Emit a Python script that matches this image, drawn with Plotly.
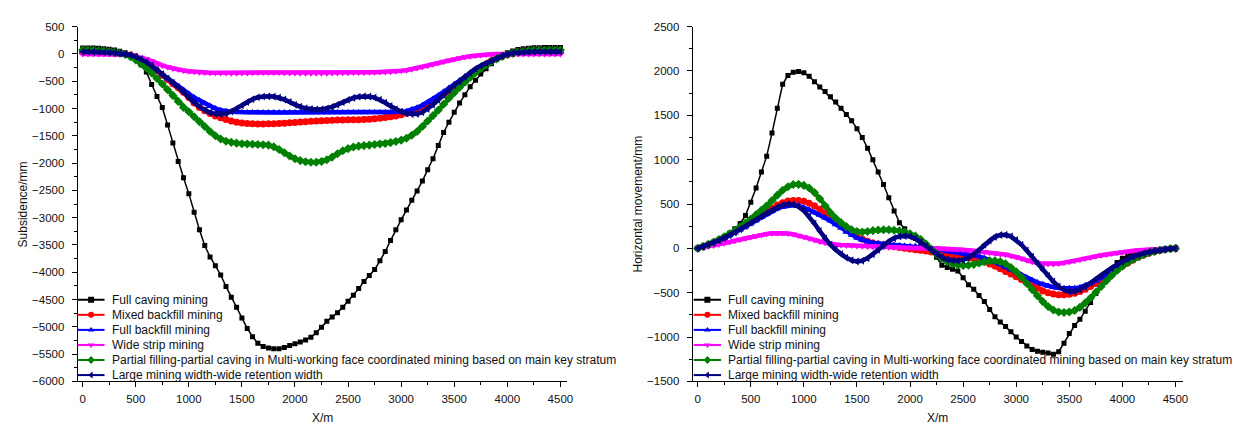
import plotly.graph_objects as go

# ---------------- data ----------------
x_m = list(range(0, 4501, 50))

names = [
    "Full caving mining",
    "Mixed backfill mining",
    "Full backfill mining",
    "Wide strip mining",
    "Partial filling-partial caving in Multi-working face coordinated mining based on main key stratum",
    "Large mining width-wide retention width",
]

# Subsidence / mm (left panel)
sub_full_caving = [
    110, 110, 108, 105, 95, 85, 70, 50, 20, -30,
    -100, -200, -330, -560, -780, -980, -1300, -1630, -1970, -2270,
    -2560, -2900, -3220, -3510, -3720, -3880, -4050, -4260, -4460, -4640,
    -4840, -5030, -5180, -5300, -5360, -5390, -5400, -5400, -5380, -5340,
    -5310, -5280, -5240, -5190, -5110, -5010, -4900, -4820, -4740, -4640,
    -4530, -4420, -4300, -4170, -4060, -3950, -3790, -3620, -3420, -3220,
    -3040, -2860, -2680, -2510, -2330, -2120, -1920, -1680, -1440, -1250,
    -1070, -900, -750, -600, -480, -370, -270, -180, -100, -30,
    20, 55, 80, 95, 105, 112, 115, 118, 120, 120,
    120,
]
sub_mixed_backfill = [
    30, 30, 30, 28, 25, 20, 15, 8, 0, -20,
    -50, -100, -160, -230, -310, -390, -470, -545, -615, -700,
    -800, -900, -980, -1040, -1090, -1135, -1170, -1200, -1230, -1250,
    -1265, -1275, -1280, -1282, -1282, -1280, -1277, -1273, -1268, -1262,
    -1255, -1248, -1242, -1235, -1228, -1222, -1218, -1215, -1212, -1210,
    -1208, -1206, -1204, -1200, -1195, -1188, -1178, -1165, -1150, -1135,
    -1115, -1085, -1050, -1020, -975, -920, -865, -805, -750, -685,
    -615, -540, -465, -395, -320, -250, -185, -125, -80, -45,
    -15, 5, 20, 28, 33, 37, 40, 40, 40, 40,
    40,
]
sub_full_backfill = [
    30, 30, 30, 28, 25, 20, 14, 6, -5, -25,
    -55, -100, -160, -230, -305, -380, -455, -525, -590, -660,
    -730, -800, -855, -910, -960, -1000, -1030, -1050, -1060, -1066,
    -1070, -1072, -1073, -1074, -1075, -1075, -1075, -1075, -1075, -1075,
    -1075, -1075, -1075, -1075, -1075, -1075, -1075, -1075, -1075, -1075,
    -1075, -1075, -1075, -1075, -1075, -1075, -1075, -1075, -1075, -1068,
    -1060, -1048, -1020, -985, -940, -885, -825, -760, -695, -625,
    -555, -485, -415, -345, -290, -230, -175, -120, -75, -35,
    -5, 10, 20, 25, 28, 30, 30, 30, 30, 30,
    30,
]
sub_wide_strip = [
    0, 0, 0, 0, 0, -2, -5, -8, -15, -28,
    -45, -65, -95, -130, -175, -210, -240, -265, -285, -305,
    -318, -328, -335, -340, -343, -346, -348, -350, -352, -352,
    -350, -348, -345, -342, -340, -340, -340, -342, -345, -348,
    -350, -352, -354, -355, -355, -354, -352, -350, -348, -346,
    -344, -342, -340, -338, -336, -334, -332, -330, -325, -318,
    -310, -298, -280, -260, -238, -215, -190, -165, -140, -118,
    -96, -76, -58, -42, -29, -18, -10, -4, -1, 0,
    0, 0, 0, 0, 0, 0, 0, 0, 0, 0,
    0,
]
sub_partial = [
    70, 70, 68, 62, 55, 45, 32, 15, -10, -50,
    -110, -180, -260, -350, -450, -550, -655, -760, -870, -980,
    -1060, -1150, -1240, -1330, -1420, -1500, -1560, -1600, -1620, -1635,
    -1645, -1650, -1655, -1660, -1665, -1670, -1700, -1750, -1810, -1870,
    -1920, -1955, -1975, -1985, -1985, -1970, -1940, -1890, -1830, -1775,
    -1735, -1705, -1690, -1680, -1670, -1660, -1650, -1640, -1625, -1605,
    -1580, -1545, -1490, -1420, -1330, -1230, -1130, -1030, -920, -810,
    -710, -615, -520, -430, -345, -270, -200, -140, -90, -45,
    -10, 15, 35, 50, 60, 65, 68, 70, 70, 70,
    70,
]
sub_large_width = [
    40, 40, 38, 35, 30, 25, 18, 10, -2, -20,
    -50, -95, -150, -215, -290, -370, -450, -530, -610, -700,
    -800, -890, -965, -1030, -1075, -1098, -1103, -1090, -1055, -1000,
    -940, -880, -830, -795, -780, -777, -782, -800, -835, -880,
    -930, -970, -995, -1012, -1018, -1015, -1000, -970, -930, -885,
    -840, -805, -785, -777, -780, -800, -840, -895, -955, -1015,
    -1060, -1090, -1103, -1100, -1070, -1010, -930, -840, -745, -650,
    -570, -500, -420, -340, -270, -215, -170, -120, -75, -35,
    -5, 15, 25, 32, 36, 38, 40, 40, 40, 40,
    40,
]

# Horizontal movement / mm (right panel)
hor_full_caving = [
    0, 15, 35, 60, 90, 125, 170, 220, 280, 370,
    520, 680, 860, 1040, 1300, 1580, 1850, 1950, 1985, 1995,
    1980, 1940, 1880, 1820, 1770, 1710, 1650, 1580, 1510, 1440,
    1350, 1250, 1130, 1000, 860, 720, 570, 420, 290, 220,
    160, 110, 60, 20, -20, -100, -190, -215, -235, -255,
    -330, -410, -460, -530, -600, -690, -770, -830, -880, -940,
    -1000, -1050, -1100, -1140, -1160, -1170, -1180, -1195, -1165, -1070,
    -960, -870, -800, -710, -610, -510, -410, -330, -250, -160,
    -110, -80, -60, -45, -35, -25, -18, -12, -8, -3,
    0,
]
hor_mixed_backfill = [
    0, 20, 45, 70, 95, 125, 155, 190, 225, 260,
    300, 340, 380, 420, 455, 490, 515, 535, 540, 540,
    530, 510, 480, 440, 400, 355, 305, 255, 210, 170,
    135, 105, 80, 60, 48, 38, 30, 20, 10, 2,
    -8, -15, -20, -30, -40, -50, -60, -70, -80, -90,
    -100, -105, -115, -130, -150, -175, -200, -230, -260, -290,
    -320, -350, -385, -420, -450, -480, -500, -515, -522, -522,
    -518, -505, -485, -460, -430, -400, -360, -320, -280, -240,
    -200, -165, -130, -100, -75, -55, -38, -24, -13, -5,
    0,
]
hor_full_backfill = [
    0, 20, 42, 65, 90, 115, 145, 175, 210, 245,
    280, 315, 350, 385, 420, 450, 470, 483, 485, 478,
    460, 435, 405, 375, 345, 310, 270, 230, 185, 150,
    120, 95, 75, 62, 55, 50, 45, 38, 32, 26,
    25, 24, 20, 10, 0, -10, -20, -30, -40, -50,
    -58, -65, -75, -90, -110, -130, -155, -180, -210, -240,
    -270, -300, -330, -360, -385, -405, -425, -438, -446, -450,
    -450, -449, -440, -420, -395, -365, -330, -295, -260, -215,
    -180, -150, -120, -95, -70, -50, -35, -22, -12, -5,
    0,
]
hor_wide_strip = [
    0, 10, 20, 32, 45, 58, 72, 86, 100, 115,
    128, 140, 152, 162, 170, 173, 172, 167, 158, 145,
    130, 112, 95, 78, 64, 52, 43, 38, 35, 32,
    28, 24, 20, 18, 16, 15, 14, 12, 10, 8,
    6, 5, 4, 3, 2, 1, 0, -2, -5, -10,
    -15, -20, -25, -32, -40, -48, -56, -63, -70, -82,
    -98, -115, -135, -152, -165, -172, -175, -175, -170, -162,
    -152, -140, -128, -115, -102, -90, -78, -68, -58, -50,
    -42, -35, -28, -22, -17, -12, -8, -5, -3, -1,
    0,
]
hor_partial = [
    0, 22, 45, 70, 100, 130, 165, 200, 240, 285,
    330, 380, 430, 480, 540, 600, 655, 695, 720, 722,
    710, 680, 630, 560, 480, 400, 340, 290, 245, 210,
    190, 185, 190, 200, 207, 210, 210, 205, 198, 185,
    165, 140, 100, 50, -10, -65, -115, -150, -175, -188,
    -193, -190, -180, -165, -150, -140, -140, -150, -175, -215,
    -265, -325, -395, -465, -535, -600, -655, -695, -718, -723,
    -718, -700, -665, -615, -560, -495, -430, -365, -305, -250,
    -200, -160, -125, -95, -70, -50, -35, -22, -12, -5,
    0,
]
hor_large_width = [
    0, 20, 42, 65, 90, 118, 148, 180, 215, 250,
    288, 325, 362, 398, 432, 462, 488, 500, 495, 470,
    425, 360, 280, 195, 110, 40, -15, -65, -105, -135,
    -147, -140, -110, -65, -15, 35, 80, 115, 135, 140,
    135, 110, 70, 25, -20, -65, -100, -125, -138, -140,
    -130, -105, -65, -15, 40, 90, 130, 150, 152, 135,
    95, 40, -25, -95, -170, -240, -310, -375, -430, -470,
    -487, -485, -465, -430, -390, -345, -300, -260, -220, -185,
    -150, -120, -95, -72, -55, -40, -28, -18, -10, -4,
    0,
]

x_ticks = list(range(0, 4501, 500))
sub_ticks = list(range(-6000, 501, 500))
hor_ticks = list(range(-1500, 2501, 500))

# ---------------- styling ----------------
subsidence = [sub_full_caving, sub_mixed_backfill, sub_full_backfill,
              sub_wide_strip, sub_partial, sub_large_width]
horizontal = [hor_full_caving, hor_mixed_backfill, hor_full_backfill,
              hor_wide_strip, hor_partial, hor_large_width]
colors = ["#000000", "#FF0000", "#0000FF", "#FF00FF", "#008000", "#000080"]
symbols = ["square", "circle", "triangle-up", "triangle-down", "diamond", "triangle-left"]

FONT = "Arial, 'Liberation Sans', sans-serif"
TXT = "#111111"
W, H = 1251, 428

fig = go.Figure()
for i in range(6):
    black = i == 0
    lw = 1.5 if black else 4.5
    ms = 5 if black else 7
    for panel, ys in ((0, subsidence[i]), (1, horizontal[i])):
        fig.add_trace(go.Scatter(
            x=x_m, y=ys, name=names[i], mode="lines+markers",
            line=dict(color=colors[i], width=lw),
            marker=dict(symbol=symbols[i], size=ms, color=colors[i], line=dict(width=0)),
            xaxis="x" if panel == 0 else "x2",
            yaxis="y" if panel == 0 else "y2",
            showlegend=False, hoverinfo="skip",
        ))

# ---- legend keys (drawn on a full-page pixel overlay axis) ----
leg_rows = [294, 309.5, 325, 340.5, 356, 371.5]
leg_left = [(70, 97, 102), (689, 716.5, 721)]   # line start, line end, text start
annotations = []
for (lx0, lx1, tx) in leg_left:
    for i in range(6):
        yr = leg_rows[i]
        fig.add_trace(go.Scatter(
            x=[lx0, lx1], y=[yr, yr], mode="lines",
            line=dict(color=colors[i], width=2),
            xaxis="x3", yaxis="y3", showlegend=False, hoverinfo="skip"))
        fig.add_trace(go.Scatter(
            x=[(lx0 + lx1) / 2], y=[yr], mode="markers",
            marker=dict(symbol=symbols[i], size=6, color=colors[i], line=dict(width=0)),
            xaxis="x3", yaxis="y3", showlegend=False, hoverinfo="skip"))
        annotations.append(dict(
            text=names[i], x=tx / W, y=(H - yr) / H, xref="paper", yref="paper",
            xanchor="left", yanchor="middle", showarrow=False,
            font=dict(family=FONT, size=12, color=TXT)))

annotations += [
    dict(text="Subsidence/mm", x=15 / W, y=(H - 196) / H, xref="paper", yref="paper",
         xanchor="center", yanchor="middle",
         showarrow=False, textangle=-90, font=dict(family=FONT, size=12, color=TXT)),
    dict(text="X/m", x=316 / W, y=(H - 416) / H, xref="paper", yref="paper",
         xanchor="center", yanchor="middle",
         showarrow=False, font=dict(family=FONT, size=12, color=TXT)),
    dict(text="Horizontal movement/mm", x=633 / W, y=(H - 195) / H, xref="paper", yref="paper",
         xanchor="center", yanchor="middle",
         showarrow=False, textangle=-90, font=dict(family=FONT, size=12, color=TXT)),
    dict(text="X/m", x=934 / W, y=(H - 416) / H, xref="paper", yref="paper",
         xanchor="center", yanchor="middle",
         showarrow=False, font=dict(family=FONT, size=12, color=TXT)),
]

ydom = [(H - 378) / H, (H - 13) / H]
minor = dict(dtick=250, ticklen=3, ticks="outside", tickcolor="black", showgrid=False)
common_axis = dict(
    showline=True, linecolor="black", linewidth=1,
    ticks="outside", ticklen=5, tickwidth=1, tickcolor="black",
    showgrid=False, zeroline=False,
    tickfont=dict(family=FONT, size=11.5, color=TXT),
)

fig.update_layout(
    width=W, height=H,
    margin=dict(l=0, r=0, t=0, b=0),
    paper_bgcolor="white", plot_bgcolor="rgba(0,0,0,0)",
    font=dict(family=FONT, size=12, color=TXT),
    showlegend=False,
    xaxis=dict(domain=[70 / W, 562 / W], range=[-47, 4565], tickvals=x_ticks,
               anchor="y", minor=minor, ticklabelstandoff=2, **common_axis),
    yaxis=dict(domain=ydom, range=[-6000, 500], tickvals=sub_ticks,
               anchor="x", minor=minor, ticklabelstandoff=5, **common_axis),
    xaxis2=dict(domain=[688 / W, 1181 / W], range=[-47, 4574], tickvals=x_ticks,
                anchor="y2", minor=minor, ticklabelstandoff=2, **common_axis),
    yaxis2=dict(domain=ydom, range=[-1500, 2500], tickvals=hor_ticks,
                anchor="x2", minor=minor, ticklabelstandoff=5, **common_axis),
    xaxis3=dict(domain=[0, 1], range=[0, W], visible=False, anchor="y3", fixedrange=True),
    yaxis3=dict(domain=[0, 1], range=[H, 0], visible=False, anchor="x3", fixedrange=True),
    annotations=annotations,
)

fig.write_html("out.html")
